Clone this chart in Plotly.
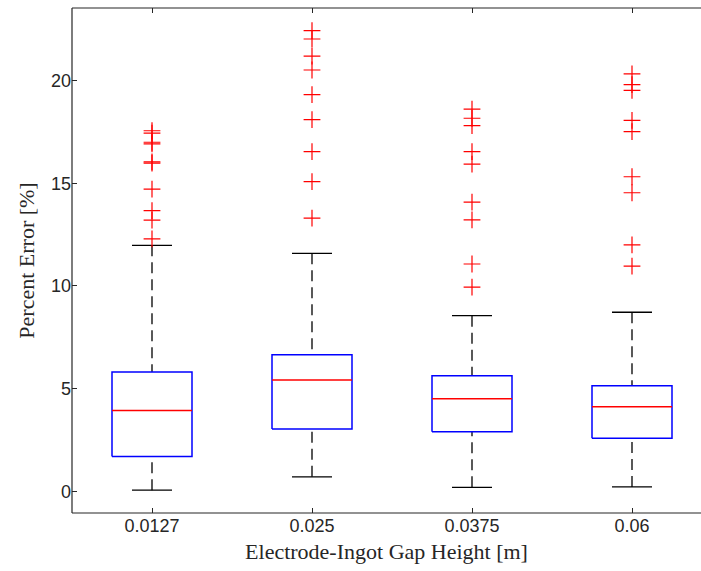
import plotly.graph_objects as go

categories = ["0.0127", "0.025", "0.0375", "0.06"]
q1 = [1.69, 3.03, 2.90, 2.58]
medians = [3.93, 5.42, 4.51, 4.12]
q3 = [5.81, 6.65, 5.63, 5.14]
lower_whisker = [0.05, 0.70, 0.19, 0.21]
upper_whisker = [11.98, 11.59, 8.55, 8.72]
outliers_0127 = [17.56, 17.44, 17.00, 16.92, 16.04, 15.98, 14.72, 13.67, 13.21, 12.29]
outliers_025 = [22.44, 22.03, 21.20, 20.52, 19.32, 18.10, 16.54, 15.08, 13.30]
outliers_0375 = [18.61, 18.17, 17.81, 16.54, 15.93, 14.08, 13.22, 11.07, 9.94]
outliers_06 = [20.33, 19.81, 19.53, 18.07, 17.52, 15.32, 14.54, 12.00, 10.97]
outliers = [outliers_0127, outliers_025, outliers_0375, outliers_06]

AX = "#262626"
HW = 0.25   # half box width (category units)
CW = 0.125  # half cap width

fig = go.Figure()

box_x, box_y = [], []
med_x, med_y = [], []
wh_x, wh_y = [], []
cap_x, cap_y = [], []
out_x, out_y = [], []
for i, cat in enumerate(categories):
    p = i + 1
    box_x += [p - HW, p + HW, p + HW, p - HW, p - HW, None]
    box_y += [q1[i], q1[i], q3[i], q3[i], q1[i], None]
    med_x += [p - HW, p + HW, None]
    med_y += [medians[i], medians[i], None]
    wh_x += [p, p, None, p, p, None]
    wh_y += [upper_whisker[i], q3[i], None, lower_whisker[i], q1[i], None]
    cap_x += [p - CW, p + CW, None, p - CW, p + CW, None]
    cap_y += [upper_whisker[i], upper_whisker[i], None, lower_whisker[i], lower_whisker[i], None]
    for v in outliers[i]:
        out_x.append(p)
        out_y.append(v)

fig.add_trace(go.Scatter(x=wh_x, y=wh_y, mode="lines",
                         line=dict(color="black", width=1.3, dash="11px,6px"),
                         hoverinfo="skip", showlegend=False))
fig.add_trace(go.Scatter(x=cap_x, y=cap_y, mode="lines",
                         line=dict(color="black", width=1.3),
                         hoverinfo="skip", showlegend=False))
fig.add_trace(go.Scatter(x=box_x, y=box_y, mode="lines",
                         line=dict(color="#0000ff", width=1.5),
                         hoverinfo="skip", showlegend=False))
fig.add_trace(go.Scatter(x=med_x, y=med_y, mode="lines",
                         line=dict(color="#ff0000", width=1.5),
                         hoverinfo="skip", showlegend=False))
fig.add_trace(go.Scatter(x=out_x, y=out_y, mode="markers",
                         marker=dict(symbol="cross-thin", size=12,
                                     line=dict(color="#ff0000", width=1.2)),
                         showlegend=False))

L, T, W, H = 72, 8, 701, 571
PX_PER_CAT = 160.0
R = 0
plot_w = W - L - R

# axes frame: left, bottom and top edges (the right edge is outside the picture)
for x0, y0, x1, y1 in [(0, 0, 0, 1), (0, 0, 1, 0), (0, 1, 1, 1)]:
    fig.add_shape(type="line", xref="paper", yref="paper",
                  x0=x0, y0=y0, x1=x1, y1=y1,
                  line=dict(color=AX, width=1.2), layer="above")

fig.update_layout(
    width=W, height=H,
    margin=dict(l=L, r=R, t=T, b=58, pad=0),
    plot_bgcolor="rgba(0,0,0,0)", paper_bgcolor="white",
    template="none",
    font=dict(family="Liberation Sans, Arial, sans-serif", size=18, color=AX),
    xaxis=dict(
        range=[0.5, 0.5 + plot_w / PX_PER_CAT],
        tickmode="array", tickvals=[1, 2, 3, 4], ticktext=categories,
        ticks="inside", ticklen=5, tickwidth=1, tickcolor=AX,
        showline=False, mirror="ticks",
        showgrid=False, zeroline=False, automargin=False, showspikes=False,
        title=dict(text="Electrode-Ingot Gap Height [m]",
                   font=dict(family="Liberation Serif, Times New Roman, serif", size=22, color=AX),
                   standoff=8),
    ),
    yaxis=dict(
        range=[-1.06, 23.54],
        tickmode="array", tickvals=[0, 5, 10, 15, 20],
        ticks="inside", ticklen=5, tickwidth=1, tickcolor=AX,
        showline=False, mirror=False,
        showgrid=False, zeroline=False, automargin=False, showspikes=False,
        title=dict(text="Percent Error [%]",
                   font=dict(family="Liberation Serif, Times New Roman, serif", size=22, color=AX),
                   standoff=10),
    ),
)

fig.write_html(
    "out.html",
    config={"displayModeBar": False, "staticPlot": True},
    post_script="document.body.style.margin='0';document.body.style.overflow='hidden';",
)
